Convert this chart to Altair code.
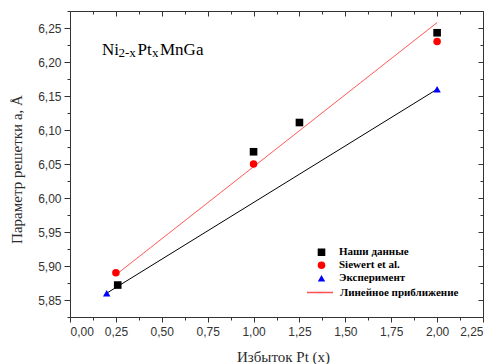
import altair as alt
import pandas as pd

# ---- data ----
series = ["Наши данные", "Siewert et al.", "Эксперимент"]
fit_label = "Линейное приближение"

our_x = [0.26, 1.0, 1.25, 2.0]
our_y = [5.872, 6.068, 6.111, 6.243]
siew_x = [0.25, 1.0, 2.0]
siew_y = [5.890, 6.050, 6.230]
exp_x = [0.2, 2.0]
exp_y = [5.860, 6.160]

fit_red_x = [0.25, 2.0]
fit_red_y = [5.887, 6.258]
fit_blk_x = [0.2, 2.0]
fit_blk_y = [5.860, 6.160]

x_major = [0.0, 0.25, 0.5, 0.75, 1.0, 1.25, 1.5, 1.75, 2.0, 2.25]
x_minor = [0.125, 0.375, 0.625, 0.875, 1.125, 1.375, 1.625, 1.875, 2.125]
y_major = [5.85, 5.90, 5.95, 6.00, 6.05, 6.10, 6.15, 6.20, 6.25]
y_minor = [5.825, 5.875, 5.925, 5.975, 6.025, 6.075, 6.125, 6.175, 6.225, 6.275]

ann_parts = ["Ni", "2-x", "Pt", "x", "MnGa"]

# ---- tables ----
pts = pd.DataFrame({
    "x": our_x + siew_x + exp_x,
    "y": our_y + siew_y + exp_y,
    "s": [series[0]] * len(our_x) + [series[1]] * len(siew_x) + [series[2]] * len(exp_x),
})
red = pd.DataFrame({"x": fit_red_x, "y": fit_red_y, "fit": [fit_label] * 2})
blk = pd.DataFrame({"x": fit_blk_x, "y": fit_blk_y})

W, H = 413, 306
SERIF = "'Liberation Serif', 'Times New Roman', serif"
SANS = "'Liberation Sans', Arial, sans-serif"
xs = alt.Scale(domain=[0, 2.25], nice=False, zero=False)
ys = alt.Scale(domain=[5.825, 6.275], nice=False, zero=False)
lbl = "replace(format(datum.value, '.2f'), '.', ',')"
TC = "#333333"

def ax(orient, values, size, labels=False, offset=0, title=None, **kw):
    args = dict(orient=orient, values=values, tickSize=size, tickColor=TC,
                domain=False, grid=False, labels=labels, offset=offset, title=title)
    args.update(kw)
    return alt.Axis(**args)

main_x = ax("bottom", x_major, 5, labels=True, title="Избыток Pt (x)",
            labelExpr=lbl, labelFont=SANS, labelFontSize=12,
            labelColor=TC, labelPadding=4, titleFont=SERIF,
            titleFontSize=15, titleFontWeight="normal", titleColor="#2b2b2b",
            titlePadding=12, titleX=213)
main_y = ax("left", y_major, 6, labels=True, title="Параметр решетки a, Å",
            labelExpr=lbl, labelFont=SANS, labelFontSize=12,
            labelColor=TC, labelPadding=3, titleFont=SERIF,
            titleFontSize=15, titleFontWeight="normal", titleColor="#2b2b2b",
            titlePadding=13, titleY=158)

black_line = alt.Chart(blk).mark_line(color="#000000", strokeWidth=1).encode(
    x=alt.X("x:Q", scale=xs, axis=main_x),
    y=alt.Y("y:Q", scale=ys, axis=main_y),
)

red_line = alt.Chart(red).mark_line(color="#ff3b3b", strokeWidth=1).encode(
    x=alt.X("x:Q", scale=xs, axis=ax("bottom", x_minor, 3)),
    y=alt.Y("y:Q", scale=ys, axis=ax("left", y_minor, 3)),
    strokeDash=alt.StrokeDash("fit:N", scale=alt.Scale(domain=[fit_label], range=[[1, 0]]),
                              legend=alt.Legend(title=None, orient="none", legendX=236, legendY=275,
                                                symbolType="stroke", symbolStrokeColor="#ff5050",
                                                symbolStrokeWidth=1.5, symbolSize=676,
                                                labelFont=SERIF, labelFontWeight="bold",
                                                labelFontSize=11, labelColor="#000000",
                                                labelOffset=6, padding=0, clipHeight=13,
                                                rowPadding=0)),
)

pleg = dict(title=None, orient="none", legendX=246, legendY=235, symbolSize=60,
            labelFont=SERIF, labelFontWeight="bold", labelFontSize=11,
            labelColor="#000000", labelOffset=12, rowPadding=0, padding=0,
            symbolStrokeWidth=0, clipHeight=12.5)

points = alt.Chart(pts).mark_point(filled=True, opacity=1).encode(
    x=alt.X("x:Q", scale=xs, axis=ax("bottom", x_major, 5, offset=-H)),
    y=alt.Y("y:Q", scale=ys, axis=ax("left", y_major, 5, offset=-W)),
    color=alt.Color("s:N", scale=alt.Scale(domain=series, range=["#000000", "#ff0000", "#0000ff"]),
                    legend=alt.Legend(**pleg)),
    shape=alt.Shape("s:N", scale=alt.Scale(domain=series, range=["square", "circle", "triangle-up"]),
                    legend=alt.Legend(**pleg)),
    size=alt.Size("s:N", scale=alt.Scale(domain=series, range=[58, 55, 85]), legend=None),
)

ghost = alt.Chart(blk).mark_point(opacity=0).encode(
    x=alt.X("x:Q", scale=xs, axis=ax("bottom", x_minor, 3, offset=-H)),
    y=alt.Y("y:Q", scale=ys, axis=ax("left", y_minor, 3, offset=-W)),
)

# annotation Ni2-xPtxMnGa with subscripts
ann_pos = [(32, 44, 17), (48.5, 46, 13), (67.5, 44, 17), (82, 46, 13), (90, 44, 17)]
ann_layers = []
for part, (px, py, fs) in zip(ann_parts, ann_pos):
    ann_layers.append(
        alt.Chart(pd.DataFrame({"t": [part]})).mark_text(
            align="left", baseline="alphabetic", font=SERIF,
            fontSize=fs, color="#000000"
        ).encode(x=alt.value(px), y=alt.value(py), text="t:N")
    )

chart = alt.layer(black_line, red_line, ghost, points, *ann_layers).resolve_axis(
    x="independent", y="independent"
).properties(
    width=W, height=H,
    autosize=alt.AutoSizeParams(type="none"),
    padding={"left": 70, "top": 11, "right": 15, "bottom": 47},
    background="white",
).configure_view(stroke=TC, strokeWidth=1)

chart.save("out.html", embed_options={"renderer": "svg", "actions": False})
